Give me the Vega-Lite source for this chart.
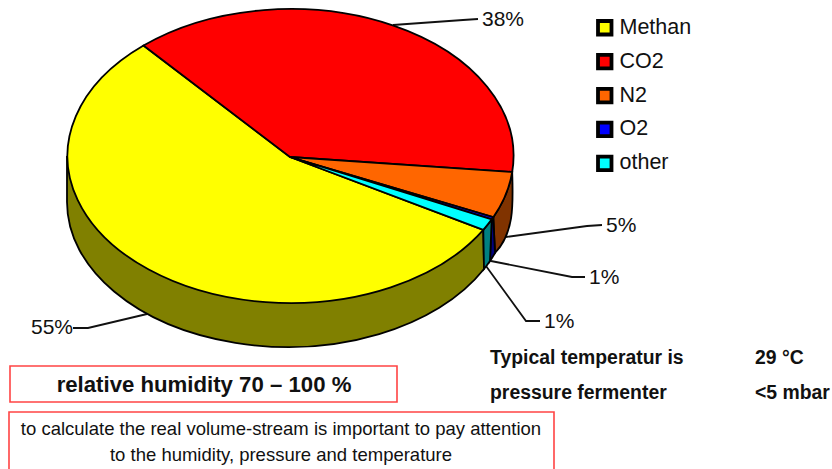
{
"$schema":"https://vega.github.io/schema/vega-lite/v6.json",
"width":832,"height":469,"padding":0,"autosize":{"type":"none"},
"background":"white",
"view":{"stroke":null},
"config":{"font":"Liberation Sans"},
"datasets":{
"gas":[{"part":"Methan","share":55},{"part":"CO2","share":38},{"part":"N2","share":5},{"part":"O2","share":1},{"part":"other","share":1}],
"leaders":[
{"id":"CO2","n":0,"px":393,"py":25},{"id":"CO2","n":1,"px":463,"py":20},{"id":"CO2","n":2,"px":478,"py":19},
{"id":"N2","n":0,"px":506,"py":237},{"id":"N2","n":1,"px":587,"py":226},{"id":"N2","n":2,"px":602,"py":225},
{"id":"O2","n":0,"px":491,"py":261},{"id":"O2","n":1,"px":572,"py":277},{"id":"O2","n":2,"px":585,"py":277},
{"id":"other","n":0,"px":486,"py":266},{"id":"other","n":1,"px":526,"py":321},{"id":"other","n":2,"px":540,"py":321},
{"id":"Methan","n":0,"px":147,"py":314},{"id":"Methan","n":1,"px":88,"py":328},{"id":"Methan","n":2,"px":73,"py":328}],
"pct":[{"label":"38%","px":482,"py":20},{"label":"5%","px":606,"py":226},{"label":"1%","px":589,"py":278},{"label":"1%","px":544,"py":322},{"label":"55%","px":31,"py":328}],
"boxes":[{"px":10,"px2":397,"py":366,"py2":402},{"px":9,"px2":554,"py":412,"py2":473}],
"big":[{"label":"relative humidity 70 – 100 %","px":204,"py":385}],
"small":[{"label":"to calculate the real volume-stream is important to pay attention","px":281,"py":429},{"label":"to the humidity, pressure and temperature","px":281,"py":455}],
"facts":[{"label":"Typical temperatur  is","px":490,"py":358},{"label":"29 °C","px":755,"py":358},{"label":"pressure fermenter","px":490,"py":393},{"label":"<5 mbar","px":755,"py":393}]
},
"encoding":{},
"layer":[
{"data":{"name":"boxes"},"mark":{"type":"rect","fill":null,"stroke":"#ff4444","strokeWidth":1.6},
 "encoding":{"x":{"field":"px","type":"quantitative","axis":null,"scale":{"domain":[0,832],"range":[0,832],"nice":false}},"x2":{"field":"px2"},"y":{"field":"py","type":"quantitative","axis":null,"scale":{"domain":[0,469],"range":[0,469],"nice":false}},"y2":{"field":"py2"}}},
{"data":{"name":"gas"},"mark":{"type":"point","shape":"square","filled":true,"opacity":1,"stroke":"black","strokeWidth":3},
 "encoding":{"x":{"datum":290},"y":{"datum":157},"size":{"value":1},
  "color":{"field":"part","type":"nominal","sort":null,"scale":{"domain":["Methan","CO2","N2","O2","other"],"range":["#ffff00","#ff0000","#ff6600","#0000ff","#00ffff"]},
   "legend":{"title":null,"orient":"none","legendX":594,"legendY":17,"symbolType":"square","symbolSize":182,"symbolStrokeWidth":3.8,"symbolStrokeColor":"black","symbolOpacity":1,"labelFont":"Liberation Sans","labelFontSize":21.5,"labelColor":"#111","labelOffset":4,"rowPadding":3.9,"labelLimit":200}}}},
{"data":{"name":"leaders"},"mark":{"type":"line","color":"#111","strokeWidth":1.8},
 "encoding":{"x":{"field":"px","type":"quantitative"},"y":{"field":"py","type":"quantitative"},"detail":{"field":"id"},"order":{"field":"n"}}},
{"data":{"name":"gas"},"transform":[{"filter":"datum.part !== 'CO2'"}],
 "mark":{"type":"point","filled":true,"opacity":1,"stroke":"black","strokeWidth":1.8},
 "encoding":{"x":{"datum":290},"y":{"datum":157},"size":{"value":4},
  "color":{"field":"part","type":"nominal","legend":null,"scale":{"domain":["Methan","N2","O2","other"],"range":["#808000","#803300","#000080","#008080"]}},
  "shape":{"field":"part","type":"nominal","legend":null,"scale":{"domain":["Methan","N2","O2","other"],"range":[
   "M-223,0L-223,45A221,145 0 0 0 194,112L193.3,72.9L0,0Z",
   "M222.2,15C223,45 225,75 205,96L203.3,60.2A223,147 0 0 0 222.2,15Z",
   "M201.7,62.4L200,104A221,145 0 0 0 205,96L203.3,60.2Z",
   "M193.3,72.9L194,112A221,145 0 0 0 200,104L201.7,62.4Z"]}}}},
{"data":{"name":"gas"},
 "mark":{"type":"point","filled":true,"opacity":1,"stroke":"black","strokeWidth":1.8},
 "encoding":{"x":{"datum":290},"y":{"datum":157},"size":{"value":4},
  "color":{"field":"part","type":"nominal","legend":null,"scale":{"domain":["Methan","CO2","N2","O2","other"],"range":["#ffff00","#ff0000","#ff6600","#0000ff","#00ffff"]}},
  "shape":{"field":"part","type":"nominal","legend":null,"scale":{"domain":["Methan","CO2","N2","O2","other"],"range":[
   "M0,0L193.3,72.9A223,147 0 1 1 -146.5,-111.5Z",
   "M0,0L-146.5,-111.5A223,147 0 0 1 222.2,15Z",
   "M0,0L222.2,15A223,147 0 0 1 203.3,60.2Z",
   "M0,0L203.3,60.2A223,147 0 0 1 201.7,62.4Z",
   "M0,0L201.7,62.4A223,147 0 0 1 193.3,72.9Z"]}}}},
{"data":{"name":"pct"},"mark":{"type":"text","align":"left","baseline":"middle","fontSize":21,"color":"#111"},
 "encoding":{"x":{"field":"px","type":"quantitative"},"y":{"field":"py","type":"quantitative"},"text":{"field":"label"}}},
{"data":{"name":"big"},"mark":{"type":"text","align":"center","baseline":"middle","fontSize":22.2,"fontWeight":"bold","color":"#111"},
 "encoding":{"x":{"field":"px","type":"quantitative"},"y":{"field":"py","type":"quantitative"},"text":{"field":"label"}}},
{"data":{"name":"small"},"mark":{"type":"text","align":"center","baseline":"middle","fontSize":18.5,"color":"#111"},
 "encoding":{"x":{"field":"px","type":"quantitative"},"y":{"field":"py","type":"quantitative"},"text":{"field":"label"}}},
{"data":{"name":"facts"},"mark":{"type":"text","align":"left","baseline":"middle","fontSize":19.4,"fontWeight":"bold","color":"#111"},
 "encoding":{"x":{"field":"px","type":"quantitative"},"y":{"field":"py","type":"quantitative"},"text":{"field":"label"}}}
],
"resolve":{"scale":{"color":"independent","shape":"independent"}}
}
